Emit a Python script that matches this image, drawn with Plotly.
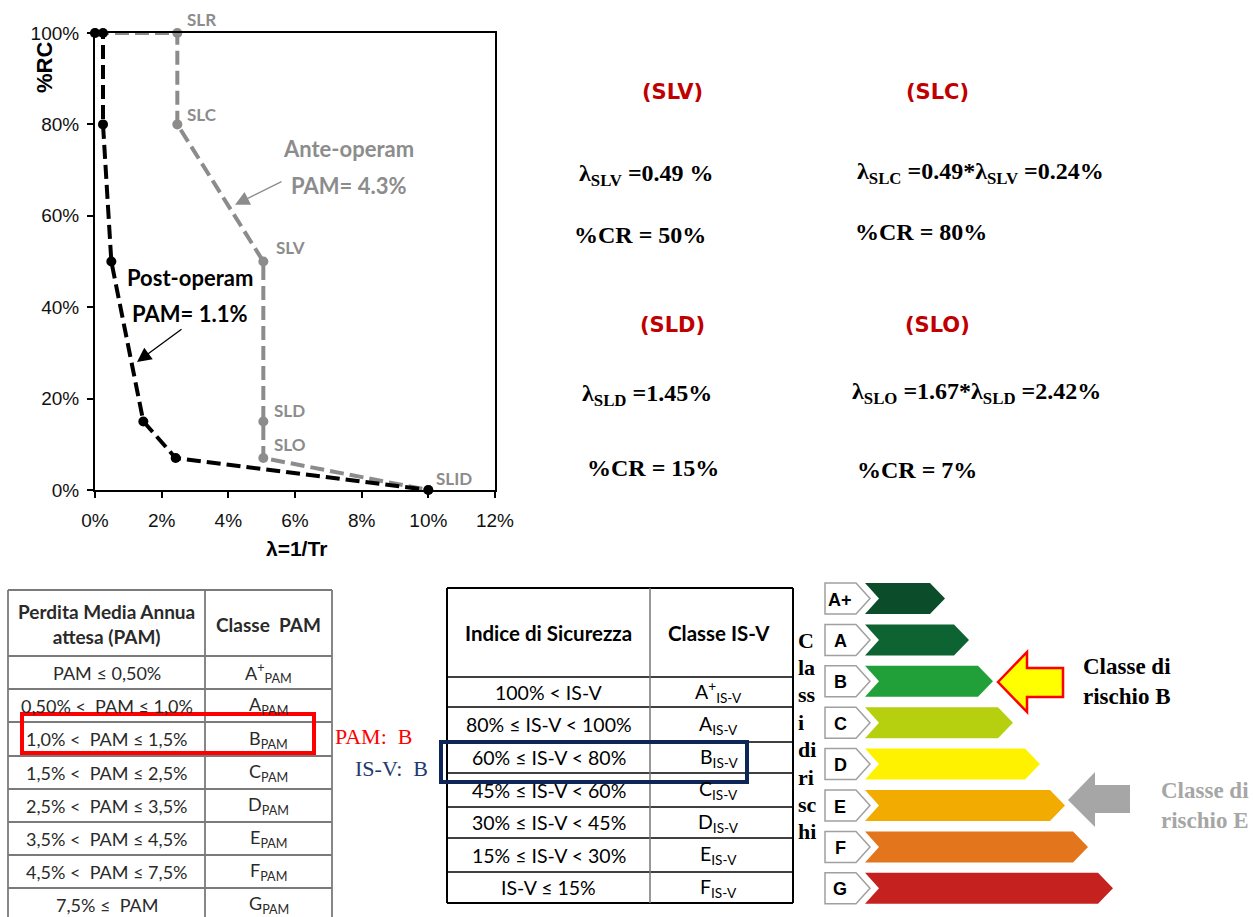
import plotly.graph_objects as go

W, H = 1253, 917


def X(px):
    return px / W


def Y(py):
    return 1 - py / H


# ---------------- data ----------------
ante_lambda = [0, 2.47, 2.47, 5.05, 5.05, 5.05, 10.0]
ante_rc = [100, 100, 80, 50, 15, 7, 0]
post_lambda = [0, 0.24, 0.24, 0.49, 1.45, 2.42, 10.0]
post_rc = [100, 100, 80, 50, 15, 7, 0]
ante_labels = ["", "SLR", "SLC", "SLV", "SLD", "SLO", "SLID"]
x_ticks = [0, 2, 4, 6, 8, 10, 12]
y_ticks = [0, 20, 40, 60, 80, 100]

pam_header = ["Perdita Media Annua<br>attesa (PAM)", "Classe\u00a0\u00a0PAM"]
pam_ranges = ["PAM ≤ 0,50%", "0,50% <\u00a0\u00a0PAM ≤ 1,0%", "1,0% <\u00a0\u00a0PAM ≤ 1,5%",
              "1,5% <\u00a0\u00a0PAM ≤ 2,5%", "2,5% <\u00a0\u00a0PAM ≤ 3,5%", "3,5% <\u00a0\u00a0PAM ≤ 4,5%",
              "4,5% <\u00a0\u00a0PAM ≤ 7,5%", "7,5% ≤\u00a0\u00a0PAM"]
pam_classes = ["A<sup>+</sup>", "A", "B", "C", "D", "E", "F", "G"]

isv_header = ["Indice di Sicurezza", "Classe IS-V"]
isv_ranges = ["100% < IS-V", "80% ≤ IS-V < 100%", "60% ≤ IS-V < 80%", "45% ≤ IS-V < 60%",
              "30% ≤ IS-V < 45%", "15% ≤ IS-V < 30%", "IS-V ≤ 15%"]
isv_classes = ["A<sup>+</sup>", "A", "B", "C", "D", "E", "F"]

energy_classes = ["A+", "A", "B", "C", "D", "E", "F", "G"]
energy_colors = ["#0b4d2a", "#0d6331", "#21a03a", "#b6cf0f", "#fff200", "#f2ab00", "#e3761c", "#c5221f"]

pam_result = "B"
isv_result = "B"

# ---------------- figure ----------------
fig = go.Figure()

GREY = "#8c8c8c"
fig.add_trace(go.Scatter(
    x=ante_lambda, y=ante_rc, mode="lines+markers", cliponaxis=False,
    line=dict(color=GREY, width=4, dash="14px,6px"),
    marker=dict(color=GREY, size=10), showlegend=False, hoverinfo="skip"))
fig.add_trace(go.Scatter(
    x=post_lambda, y=post_rc, mode="lines+markers", cliponaxis=False,
    line=dict(color="black", width=4, dash="14px,6px"),
    marker=dict(color="black", size=10), showlegend=False, hoverinfo="skip"))

ann = []
shapes = []


def text(px, py, txt, font, xa="center", ya="middle", **kw):
    d = dict(x=X(px), y=Y(py), xref="paper", yref="paper", text=txt, showarrow=False,
             xanchor=xa, yanchor=ya, font=font)
    d.update(kw)
    ann.append(d)


# point labels on ante-operam curve
label_offsets = {"SLR": (8, 13), "SLC": (8, 10), "SLV": (11, 14), "SLD": (9, 11),
                 "SLO": (9, 14), "SLID": (6, 12)}
for xv, yv, lab in zip(ante_lambda, ante_rc, ante_labels):
    if not lab:
        continue
    dx, dy = label_offsets[lab]
    ann.append(dict(x=xv, y=yv, xref="x", yref="y", text="<b>%s</b>" % lab, showarrow=False,
                    xanchor="left", yanchor="middle", xshift=dx, yshift=dy,
                    font=dict(family="Lato", size=17, color=GREY)))

# curve annotations
big = dict(family="Lato", size=22, color=GREY)
text(348, 148, "<b>Ante-operam</b>", big)
text(349, 185, "<b>PAM= 4.3%</b>", big)
bigk = dict(family="Lato", size=22, color="black")
text(190, 277, "<b>Post-operam</b>", bigk)
text(190, 313, "<b>PAM= 1.1%</b>", bigk)
ann.append(dict(x=4.2, y=62.4, xref="x", yref="y", text="", showarrow=True, ax=48, ay=-24,
                arrowhead=2, arrowsize=2.2, arrowwidth=1.3, arrowcolor=GREY))
ann.append(dict(x=1.26, y=28.0, xref="x", yref="y", text="", showarrow=True, ax=46, ay=-34,
                arrowhead=2, arrowsize=2.2, arrowwidth=1.3, arrowcolor="black"))

# axis titles
text(44, 68, "<b>%RC</b>", dict(family="Liberation Sans", size=22, color="black"), textangle=-90)
text(296, 548, "<b>λ=1/Tr</b>", dict(family="Liberation Sans", size=21, color="black"))

# ---------------- formulas (right of chart) ----------------
RED = "#c00000"
for txt, cx, cy in [("(SLV)", 672, 92), ("(SLC)", 937, 92), ("(SLD)", 672, 325), ("(SLO)", 937, 325)]:
    text(cx, cy, "<b>%s</b>" % txt, dict(family="DejaVu Sans", size=21, color=RED))

serif = dict(family="Liberation Serif", size=24, color="black")
formulas = [
    ("λ<sub>SLV</sub> =0.49 %", 577, 175),
    ("%CR = 50%", 572, 235),
    ("λ<sub>SLC</sub> =0.49*λ<sub>SLV</sub> =0.24%", 855, 173),
    ("%CR = 80%", 853, 232),
    ("λ<sub>SLD</sub> =1.45%", 580, 395),
    ("%CR = 15%", 585, 468),
    ("λ<sub>SLO</sub> =1.67*λ<sub>SLD</sub> =2.42%", 850, 393),
    ("%CR = 7%", 855, 470),
]
for txt, lx, cy in formulas:
    text(lx, cy, "<b>%s</b>" % txt, serif, xa="left")

# ---------------- PAM table ----------------
pam_left, pam_mid, pam_right = 8, 205, 332
pam_rows_y = [590, 656, 689, 722, 756, 789, 822, 855, 888, 921]
TGREY = "#7a7a7a"
for yy in pam_rows_y:
    shapes.append(dict(type="line", xref="paper", yref="paper", x0=X(pam_left), x1=X(pam_right),
                       y0=Y(yy), y1=Y(yy), line=dict(color=TGREY, width=1.8)))
for xx in [pam_left, pam_mid, pam_right]:
    shapes.append(dict(type="line", xref="paper", yref="paper", x0=X(xx), x1=X(xx),
                       y0=Y(590), y1=Y(921), line=dict(color=TGREY, width=1.8)))
c1 = (pam_left + pam_mid) / 2
c2 = (pam_mid + pam_right) / 2
TXT = "#2a2a2a"
tfont = dict(family="Lato", size=18, color=TXT)
text(c1, 624, "<b>%s</b>" % pam_header[0], dict(family="Lato", size=19, color=TXT))
text(c2, 624, "<b>%s</b>" % pam_header[1], dict(family="Lato", size=19, color=TXT))
for i, (rng, cls) in enumerate(zip(pam_ranges, pam_classes)):
    cy = (pam_rows_y[i + 1] + pam_rows_y[i + 2]) / 2
    text(c1, cy, rng, tfont)
    text(c2, cy, cls + "<sub>PAM</sub>", tfont)

# red highlight box (PAM class B)
pam_idx = pam_classes.index(pam_result)
shapes.append(dict(type="rect", xref="paper", yref="paper", x0=X(22), x1=X(314),
                   y0=Y(pam_rows_y[pam_idx + 1] - 8), y1=Y(pam_rows_y[pam_idx + 2] - 3),
                   line=dict(color="#ff0000", width=4)))
text(333, 736, "PAM:\u00a0\u00a0" + pam_result,
     dict(family="Liberation Serif", size=22, color="#ff0000"), xa="left")
text(353, 768, "IS-V:\u00a0\u00a0" + isv_result,
     dict(family="Liberation Serif", size=22, color="#1f3a6e"), xa="left")

# ---------------- IS-V table ----------------
isv_left, isv_mid, isv_right = 447, 650, 793
isv_rows_y = [588, 677, 707, 742, 773, 807, 838, 872, 903]
for k, yy in enumerate(isv_rows_y):
    outer = k in (0, len(isv_rows_y) - 1)
    shapes.append(dict(type="line", xref="paper", yref="paper", x0=X(isv_left), x1=X(isv_right),
                       y0=Y(yy), y1=Y(yy), line=dict(color="black", width=2 if outer else 1.5)))
for xx, col in [(isv_left, "black"), (isv_mid, "#777777"), (isv_right, "black")]:
    shapes.append(dict(type="line", xref="paper", yref="paper", x0=X(xx), x1=X(xx),
                       y0=Y(588), y1=Y(903), line=dict(color=col, width=2 if col == "black" else 1.5)))
d1 = (isv_left + isv_mid) / 2
d2 = (isv_mid + isv_right) / 2 - 3
kfont = dict(family="Lato", size=19.5, color="black")
text(d1, 633, "<b>%s</b>" % isv_header[0], dict(family="Lato", size=20.5, color="black"))
text(d2, 633, "<b>%s</b>" % isv_header[1], dict(family="Lato", size=20.5, color="black"))
for i, (rng, cls) in enumerate(zip(isv_ranges, isv_classes)):
    cy = (isv_rows_y[i + 1] + isv_rows_y[i + 2]) / 2
    text(d1, cy, rng, kfont)
    text(d2, cy, cls + "<sub>IS-V</sub>", kfont)

isv_idx = isv_classes.index(isv_result)
shapes.append(dict(type="rect", xref="paper", yref="paper", x0=X(441), x1=X(747),
                   y0=Y(isv_rows_y[isv_idx + 1]), y1=Y(isv_rows_y[isv_idx + 2] + 9),
                   line=dict(color="#0e2557", width=4)))

# vertical "Classi di rischi" text
for i, part in enumerate(["C", "la", "ss", "i", "di", "ri", "sc", "hi"]):
    text(796, 640 + i * 27.4, "<b>%s</b>" % part,
         dict(family="Liberation Serif", size=22, color="black"), xa="left")

# ---------------- energy-style risk class label ----------------
e_top0, e_pitch, e_h = 583, 41.4, 31
e_tips = [945, 969, 993, 1013, 1040, 1065, 1088, 1113]


def path(pts):
    s = "M %f %f " % (X(pts[0][0]), Y(pts[0][1]))
    for px, py in pts[1:]:
        s += "L %f %f " % (X(px), Y(py))
    return s + "Z"


for i, (cls, colr, tip) in enumerate(zip(energy_classes, energy_colors, e_tips)):
    top = e_top0 + i * e_pitch
    bot = top + e_h
    mid = (top + bot) / 2
    shapes.append(dict(type="path", xref="paper", yref="paper",
                       path=path([(825, top), (856, top), (870, mid), (856, bot), (825, bot)]),
                       fillcolor="white", line=dict(color="#a0a0a0", width=1.5)))
    text(840, mid + 1, "<b>%s</b>" % cls, dict(family="Liberation Sans", size=18, color="black"))
    shapes.append(dict(type="path", xref="paper", yref="paper",
                       path=path([(865, top), (tip - 15, top), (tip, mid), (tip - 15, bot),
                                  (865, bot), (879, mid)]),
                       fillcolor=colr, line=dict(width=0)))

# yellow arrow (post-operam class B)
shapes.append(dict(type="path", xref="paper", yref="paper",
                   path=path([(998, 682), (1027, 652), (1027, 668), (1063, 668), (1063, 697),
                              (1027, 697), (1027, 712)]),
                   fillcolor="#ffff00", line=dict(color="#ff0000", width=2.5)))
text(1081, 681, "<b>Classe di<br>rischio B</b>",
     dict(family="Liberation Serif", size=23, color="black"), xa="left", align="left")
# grey arrow (ante-operam class E)
shapes.append(dict(type="path", xref="paper", yref="paper",
                   path=path([(1068, 800), (1095, 772), (1095, 785), (1130, 785), (1130, 813),
                              (1095, 813), (1095, 827)]),
                   fillcolor="#a6a6a6", line=dict(width=0)))
text(1159, 805, "<b>Classe di<br>rischio E</b>",
     dict(family="Liberation Serif", size=23, color="#a6a6a6"), xa="left", align="left")

fig.update_layout(
    width=W, height=H, margin=dict(l=0, r=0, t=0, b=0, autoexpand=False),
    paper_bgcolor="white", plot_bgcolor="white",
    xaxis=dict(domain=[X(95), X(495)], range=[0, 12], tickmode="array", tickvals=x_ticks,
               ticktext=["%d%%" % v for v in x_ticks],
               showgrid=False, zeroline=False, showline=True, mirror=True, linecolor="black",
               linewidth=2, ticks="outside", ticklen=6, tickcolor="black", tickwidth=2,
               ticklabelstandoff=6, automargin=False,
               tickfont=dict(family="Liberation Sans", size=19, color="#111111")),
    yaxis=dict(domain=[Y(490), Y(33)], range=[0, 100], tickmode="array", tickvals=y_ticks,
               ticktext=["%d%%" % v for v in y_ticks],
               showgrid=False, zeroline=False, showline=True, mirror=True, linecolor="black",
               linewidth=2, ticks="outside", ticklen=6, tickcolor="black", tickwidth=2,
               ticklabelstandoff=4, automargin=False,
               tickfont=dict(family="Liberation Sans", size=19, color="#111111")),
    annotations=ann, shapes=shapes, showlegend=False,
)

fig.write_html("out.html", config={"displayModeBar": False},
               post_script="document.body.style.margin='0';document.body.style.overflow='hidden';")
